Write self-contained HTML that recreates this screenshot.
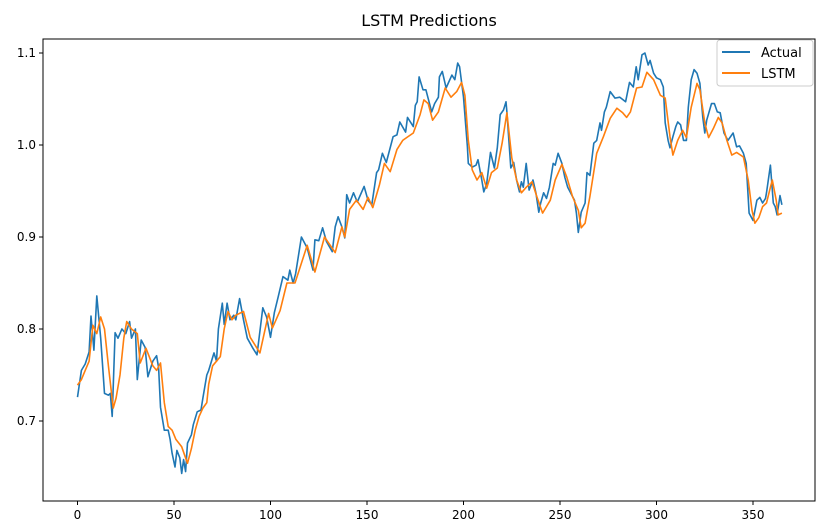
<!DOCTYPE html>
<html><head><meta charset="utf-8"><style>
body{margin:0;background:#fff;}
svg{display:block;font-family:"DejaVu Sans","Liberation Sans",sans-serif;}
</style></head><body>
<svg id="chart" width="826" height="528">
<text x="429" y="26" text-anchor="middle" font-size="16">LSTM Predictions</text>
<g id="plot"></g>
<g id="axes"></g>
<g>
<rect x="717" y="40" width="96" height="46" rx="3" fill="#fff" fill-opacity="0.8" stroke="#ccc"/>
<line x1="722" y1="52" x2="750" y2="52" stroke="#1f77b4" stroke-width="2"/>
<text x="761" y="57" font-size="13">Actual</text>
<line x1="722" y1="73" x2="750" y2="73" stroke="#ff7f0e" stroke-width="2"/>
<text x="761" y="78" font-size="13">LSTM</text>
</g>
</svg>
<script>
const actualDays=[0,2,4,6,7,8.5,10,12,14,16,17,18,19.5,21,23,25,27,28,30,31,33,35,36.5,39,41,42,43,45,47,48,49,50.5,51.5,53,54,55,56,57,59,60,62,64,65,67,68,70.7,72,73,75,76,77.5,79,81,82,84,86,88,90.6,93,96,98,100,102,104,106.5,109,110,111.7,113,116,119,122,123,125,127,129,132,133.5,135,137,138.5,139.5,141,143,145,148.5,150.5,152.5,155,156,158,160,163.5,165.5,167,170,171,174,175,176,177,179,180.5,183.5,185,187,187.5,189,191,194,195.5,197,198,200,202,202.5,204.5,206.5,207.5,209.5,210.5,212,214,216,217.5,219,220.7,222,222.5,224.5,226,227.5,229,230,231,232.5,234,236,237.5,239,240,241.5,243,244.5,246.5,247.5,249,251,252.5,254,256,257.5,258.5,259.5,261,263,264,265.5,267.5,269,270.7,271.5,273,274,276,278.5,281,284,286,288,289.5,290.5,292.5,294,295.7,296.7,298.5,300,302,303.5,304.5,306,307,308.5,310,311,312.5,314,315.5,316.5,318,319.5,321,322.5,324,325,326,328.5,330,331.5,333,335,337,339.7,341.5,343,345,346.5,348,350,352,353.5,355,356.5,357,359,360.5,361.5,362.5,364,365];
const actualValues=[0.726,0.755,0.762,0.775,0.814,0.777,0.836,0.79,0.73,0.728,0.73,0.705,0.796,0.79,0.80,0.795,0.808,0.79,0.80,0.745,0.788,0.78,0.748,0.765,0.771,0.758,0.715,0.69,0.69,0.68,0.665,0.65,0.668,0.66,0.643,0.658,0.645,0.676,0.685,0.696,0.71,0.712,0.725,0.75,0.755,0.774,0.765,0.80,0.828,0.805,0.828,0.81,0.815,0.81,0.833,0.81,0.79,0.78,0.772,0.823,0.813,0.791,0.818,0.835,0.857,0.853,0.864,0.85,0.86,0.90,0.888,0.864,0.897,0.896,0.91,0.895,0.884,0.911,0.922,0.911,0.899,0.946,0.937,0.948,0.938,0.955,0.94,0.935,0.97,0.973,0.991,0.981,1.009,1.011,1.025,1.014,1.03,1.02,1.043,1.047,1.074,1.06,1.06,1.036,1.045,1.052,1.074,1.08,1.062,1.076,1.071,1.089,1.085,1.052,0.998,0.98,0.976,0.978,0.984,0.962,0.949,0.958,0.992,0.975,0.997,1.033,1.038,1.047,1.036,0.975,0.981,0.962,0.949,0.96,0.954,0.98,0.951,0.962,0.948,0.927,0.937,0.948,0.942,0.954,0.98,0.978,0.991,0.98,0.965,0.954,0.946,0.94,0.926,0.905,0.927,0.937,0.97,0.967,1.002,1.005,1.024,1.016,1.036,1.041,1.058,1.051,1.052,1.047,1.068,1.063,1.085,1.071,1.098,1.1,1.087,1.092,1.078,1.073,1.071,1.063,1.024,1.005,0.997,1.009,1.02,1.025,1.022,1.005,1.005,1.041,1.071,1.082,1.078,1.067,1.03,1.013,1.027,1.045,1.045,1.036,1.035,1.013,1.005,1.013,0.998,0.999,0.991,0.98,0.926,0.918,0.94,0.943,0.937,0.942,0.948,0.978,0.937,0.933,0.924,0.945,0.935];
const lstmDays=[0,2,4,6,8,10,12,14,16,18.5,20,22,24,25.5,28,31,32.5,35.5,39,41,43,45,47,49,51,54,57,59,61,63,65,67,68,70,72,74,76,78,80,82,86,89.5,94.5,99,101,105,108.5,112.7,119,123,128,133.5,137,138.5,141,144.5,148,150.5,153,156.5,159,162,165.5,168.5,170.5,174,177.5,179.5,181.7,184,187,190.5,193.5,196.5,199,200.7,202.5,204.5,207,209.5,212,214.5,217.5,220,222.5,225,227.5,230,232.5,235.5,238,241,245,247.5,251,253.5,256.5,259.5,261,263,265.5,269,272.5,276,279.5,282.5,284.5,286.5,289.7,292.5,295,298.5,302,304.5,307,308.5,311,313.5,315.5,318,321,322.5,325,327,329.5,332,334,336.5,339,341.5,345,347.5,349.5,351,353,355,357,359,360,362,363,365];
const lstmValues=[0.739,0.745,0.755,0.765,0.804,0.795,0.813,0.80,0.76,0.714,0.725,0.75,0.79,0.808,0.80,0.795,0.763,0.779,0.76,0.755,0.763,0.72,0.694,0.69,0.68,0.672,0.654,0.67,0.69,0.705,0.714,0.72,0.74,0.76,0.765,0.77,0.80,0.819,0.81,0.815,0.819,0.791,0.774,0.817,0.801,0.82,0.85,0.85,0.891,0.862,0.90,0.883,0.911,0.90,0.93,0.94,0.93,0.943,0.932,0.957,0.98,0.971,0.995,1.005,1.008,1.013,1.033,1.049,1.045,1.027,1.036,1.062,1.052,1.058,1.068,1.054,1.005,0.973,0.962,0.97,0.953,0.97,0.975,1.002,1.035,0.986,0.962,0.948,0.954,0.96,0.944,0.926,0.94,0.962,0.979,0.965,0.944,0.929,0.91,0.915,0.944,0.991,1.009,1.029,1.04,1.035,1.03,1.036,1.062,1.063,1.079,1.071,1.054,1.051,1.009,0.989,1.005,1.016,1.008,1.041,1.067,1.06,1.024,1.008,1.018,1.03,1.024,1.005,0.989,0.992,0.987,0.962,0.929,0.915,0.921,0.933,0.937,0.954,0.962,0.94,0.924,0.926];
const xTicks=[0,50,100,150,200,250,300,350];
const yTicks=[0.7,0.8,0.9,1.0,1.1];
const yTickLabels=["0.7","0.8","0.9","1.0","1.1"];

const L=43,R=815,T=39,B=501;
function xs(d){return 77.5+d*1.93;}
function ys(v){return 53+(1.1-v)*920;}
const NS="http://www.w3.org/2000/svg";
const plot=document.getElementById('plot'),axes=document.getElementById('axes');
function mk(tag,attrs,parent){const e=document.createElementNS(NS,tag);for(const k in attrs)e.setAttribute(k,attrs[k]);parent.appendChild(e);return e;}
function series(days,vals,color,name){
  let d='';for(let i=0;i<days.length;i++){d+=(i?'L':'M')+xs(days[i]).toFixed(1)+','+ys(vals[i]).toFixed(1);}
  const p=mk('path',{d:d,fill:'none',stroke:color,'stroke-width':'1.6','stroke-linejoin':'round'},plot);
  
  
}
series(actualDays,actualValues,'#1f77b4','actual-line');
series(lstmDays,lstmValues,'#ff7f0e','lstm-line');
const frame=mk('rect',{x:L,y:T,width:R-L,height:B-T,fill:'none',stroke:'#000','stroke-width':'1'},axes);


xTicks.forEach(t=>{
  const x=xs(t);
  const tk=mk('line',{x1:x,y1:B,x2:x,y2:B+4,stroke:'#000'},axes);
  
  
  const tx=mk('text',{x:x,y:B+18,'text-anchor':'middle','font-size':'12'},axes);
  tx.textContent=String(t);
  
  
});
yTicks.forEach((t,i)=>{
  const y=ys(t);
  const tk=mk('line',{x1:L-4,y1:y,x2:L,y2:y,stroke:'#000'},axes);
  
  
  const tx=mk('text',{x:L-7,y:y+4,'text-anchor':'end','font-size':'12'},axes);
  tx.textContent=yTickLabels[i];
  
  
});
</script>
</body></html>
